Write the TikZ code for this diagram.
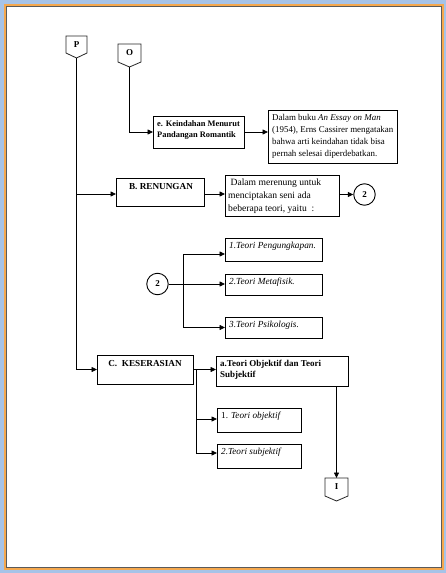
\documentclass[tikz,border=0pt]{standalone}
\usepackage{fontspec}
\setmainfont{Liberation Serif}
\usetikzlibrary{arrows.meta,calc}
\definecolor{bgblue}{HTML}{A6C3E8}
\definecolor{pageorange}{HTML}{F5A84E}
\definecolor{pagegray}{HTML}{5A5A5A}
\begin{document}
\begin{tikzpicture}[x=1pt,y=-1pt,
  box/.style={draw=black, line width=0.8pt, anchor=north west, inner sep=0pt, outer sep=0pt},
  txt/.style={anchor=north west, inner sep=0pt, align=left, font=\fontsize{9.2}{11}\selectfont},
  ctxt/.style={anchor=north, inner sep=0pt, align=center, font=\fontsize{9.2}{11}\selectfont\bfseries},
  circ/.style={circle, draw=black, line width=0.9pt, minimum size=21.5pt, inner sep=0pt, font=\fontsize{9}{10}\selectfont\bfseries},
  penta/.style={draw=black!85, line width=0.8pt, fill=white},
  ptxt/.style={inner sep=0pt, font=\fontsize{9}{10}\selectfont\bfseries},
  conn/.style={draw=black, line width=0.8pt},
  arr/.style={conn, -{Triangle[length=5.5pt,width=5pt]}}]
\useasboundingbox (0,0) rectangle (446,573);
% page frame
\fill[bgblue] (0,0) rectangle (446,573);
\fill[pageorange] (4,4) rectangle (444,570);
\filldraw[fill=white, draw=pagegray, line width=1pt] (6.5,6.5) rectangle (441,567);

% off-page connectors
\draw[penta] (66,36) -- (87,36) -- (87,53) -- (76.5,58) -- (66,53) -- cycle;
\node[ptxt] (Pt) at (76.5,45) {P};
\coordinate (Ptip) at (76.5,58);
\draw[penta] (118,44) -- (141,44) -- (141,62) -- (129.5,67) -- (118,62) -- cycle;
\node[ptxt] (Ot) at (129.5,53) {O};
\coordinate (Otip) at (129.5,67);
\draw[penta] (325,478) -- (348,478) -- (348,496) -- (336.5,501) -- (325,496) -- cycle;
\node[ptxt] (It) at (336.5,487) {I};
\coordinate (Itop) at (336.5,478);

% boxes
\node[box, minimum width=91pt, minimum height=32pt] (e) at (153,116) {};
\node[txt, font=\fontsize{8.4}{10.5}\selectfont\bfseries] (et) at ($(e.north west)+(4,4.5)$) {e. Keindahan Menurut\\Pandangan Romantik};

\node[box, minimum width=129pt, minimum height=53pt] (f) at (268,110) {};
\node[txt, font=\fontsize{8.9}{11.8}\selectfont] (ft) at ($(f.north west)+(4,4.5)$) {Dalam buku \textit{An Essay on Man}\\(1954), Erns Cassirer mengatakan\\bahwa arti keindahan tidak bisa\\pernah selesai diperdebatkan.};

\node[box, minimum width=88pt, minimum height=28pt] (B) at (116,178) {};
\node[ctxt] (Bt) at ($(B.north)+(1,5)$) {B. RENUNGAN};

\node[box, minimum width=114pt, minimum height=41pt] (D) at (225,175) {};
\node[txt, font=\fontsize{9.6}{13}\selectfont] (Dt) at ($(D.north west)+(3,4)$) {\ Dalam merenung untuk\\menciptakan seni ada\\beberapa teori, yaitu\ \ :};

\node[circ] (c2a) at (364.5,194.5) {2};
\node[circ] (c2b) at (157.5,284) {2};

\node[box, minimum width=97pt, minimum height=23pt] (T1) at (225,238) {};
\node[txt, font=\fontsize{9.3}{11}\selectfont\itshape] (T1t) at ($(T1.north west)+(4,4)$) {1.Teori Pengungkapan.};
\node[box, minimum width=97pt, minimum height=21pt] (T2) at (225,274) {};
\node[txt, font=\fontsize{9.3}{11}\selectfont\itshape] (T2t) at ($(T2.north west)+(4,3.5)$) {2.Teori Metafisik.};
\node[box, minimum width=97pt, minimum height=21pt] (T3) at (225,317) {};
\node[txt, font=\fontsize{9.3}{11}\selectfont\itshape] (T3t) at ($(T3.north west)+(4,3.5)$) {3.Teori Psikologis.};

\node[box, minimum width=96pt, minimum height=29pt] (C) at (97,355) {};
\node[ctxt] (Ct) at ($(C.north)+(0,5.5)$) {C.\ \ KESERASIAN};

\node[box, minimum width=132pt, minimum height=30pt] (a) at (216,356) {};
\node[txt, font=\fontsize{9}{11}\selectfont\bfseries] (at) at ($(a.north west)+(4,4)$) {a.Teori Objektif dan Teori\\Subjektif};

\node[box, minimum width=84pt, minimum height=24pt] (o1) at (217,408) {};
\node[txt] (o1t) at ($(o1.north west)+(4,4)$) {1. \textit{Teori objektif}};
\node[box, minimum width=84pt, minimum height=24pt] (o2) at (217,444) {};
\node[txt] (o2t) at ($(o2.north west)+(4,4)$) {\textit{2.Teori subjektif}};

% connectors
\draw[arr] (Otip) |- (e.west);
\draw[arr] (e.east) -- (e.east -| f.west);
\draw[arr] (Ptip) |- ($(B.west)+(0,2)$);
\draw[arr] (Ptip) |- (C.west);
\draw[arr] ($(B.east)+(0,2)$) -- ($(B.east -| D.west)+(0,2)$);
\draw[arr] (D.east |- c2a) -- (c2a.west);

\coordinate (j1) at (183,284);
\draw[conn] (c2b.east) -- (j1);
\draw[arr] (j1) |- ($(T1.south west)+(0,-7)$);
\draw[arr] (j1) -- (j1 -| T2.west);
\draw[arr] (j1) |- (T3.west);

\coordinate (j2) at (196,369.5);
\draw[arr] (C.east) -- (C.east -| a.west);
\draw[arr] (j2) |- ($(o1.west)+(0,-1)$);
\draw[arr] (j2) |- ($(o2.west)+(0,-3)$);
\draw[arr] (a.south -| Itop) -- (Itop);
\end{tikzpicture}
\end{document}
